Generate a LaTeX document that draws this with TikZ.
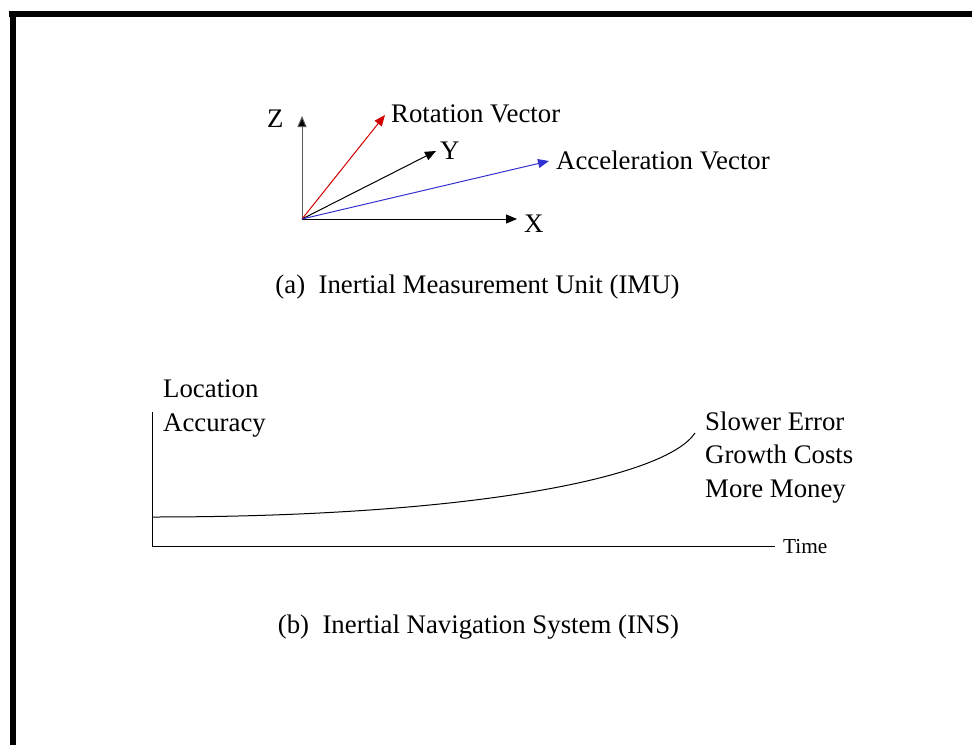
\documentclass[tikz,border=0pt]{standalone}
\usepackage{fontspec}
\setmainfont{Liberation Serif}
\usetikzlibrary{arrows.meta}
\definecolor{vecred}{RGB}{210,0,0}
\definecolor{vecblue}{RGB}{50,50,210}
\definecolor{axisgray}{RGB}{90,90,90}
\begin{document}
\begin{tikzpicture}[x=1pt,y=-1pt,
  lbl/.style={inner sep=0pt,anchor=base west,font=\fontsize{26.8}{33.5}\selectfont},
  captxt/.style={inner sep=0pt,anchor=base,font=\fontsize{26.8}{33.5}\selectfont},
  small/.style={inner sep=0pt,anchor=base west,font=\fontsize{21.3}{25}\selectfont},
  vec/.style={line width=1pt,-{Triangle[length=11pt,width=9pt]}},
  axisline/.style={line width=1pt}]
\useasboundingbox (0,0) rectangle (972,745);
% frame
\fill (9,11) rectangle (972,17);
\fill (10,11) rectangle (16,745);
% (a) IMU
\coordinate (O) at (302,219);
\coordinate (Ztip) at (302,116);
\coordinate (Xtip) at (517,219);
\coordinate (Ytip) at (436,151);
\coordinate (Rtip) at (385,115);
\coordinate (Atip) at (549,161);
\draw[vec,draw=axisgray,-{Triangle[length=11pt,width=9pt,fill=black]}] (O) -- (Ztip);
\draw[vec] (O) -- (Xtip);
\draw[vec] (O) -- (Ytip);
\draw[vec,vecred] (O) -- (Rtip);
\draw[vec,vecblue] (O) -- (Atip);
\node[lbl] (zl) at (267,127) {Z};
\node[lbl] (xl) at (524,232) {X};
\node[lbl] (yl) at (440,159) {Y};
\node[lbl] (rl) at (391,122) {Rotation Vector};
\node[lbl] (al) at (556,169) {Acceleration Vector};
\node[captxt] (capa) at (477.5,293) {(a)\ \ Inertial Measurement Unit (IMU)};
% (b) INS
\coordinate (Ytop) at (152,412);
\coordinate (B0) at (152,546);
\coordinate (Tend) at (775,546);
\coordinate (C0) at (152,517);
\coordinate (C1) at (695,433);
\draw[axisline] (Ytop) -- (B0) -- (Tend);
\draw[line width=1pt] (C0) .. controls (470,517) and (665,478) .. (C1);
\node[small] (tl) at (783,553) {Time};
\node[lbl,align=left] (loc) at (163,431) {Location\\Accuracy};
\node[lbl,align=left] (sl) at (705,497) {Slower Error\\Growth Costs\\More Money};
\node[captxt] (capb) at (478.5,633) {(b)\ \ Inertial Navigation System (INS)};
\end{tikzpicture}
\end{document}
